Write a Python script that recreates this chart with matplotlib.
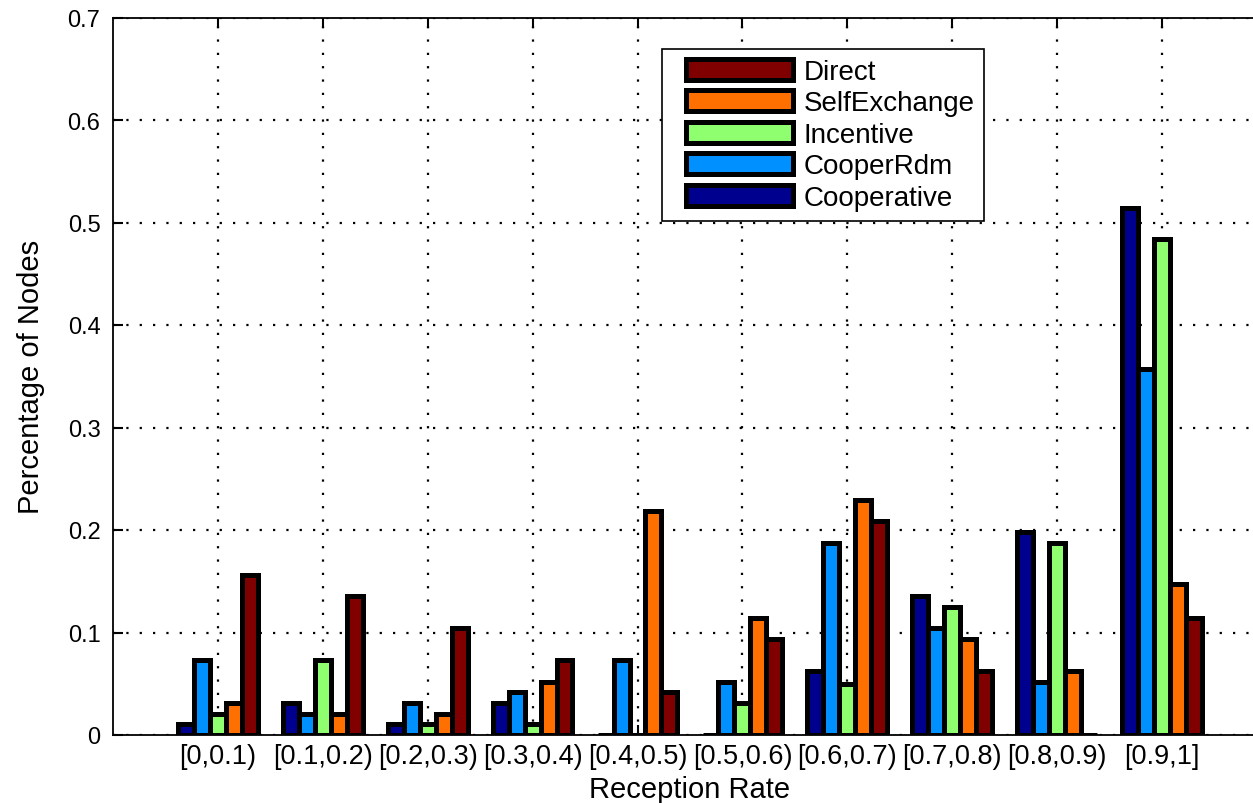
import matplotlib
matplotlib.use("Agg")
import matplotlib.pyplot as plt
from matplotlib.legend_handler import HandlerPatch
from matplotlib.patches import Rectangle
import numpy as np

plt.rcParams['font.family'] = ['Liberation Sans', 'DejaVu Sans']

categories = ["[0,0.1)", "[0.1,0.2)", "[0.2,0.3)", "[0.3,0.4)", "[0.4,0.5)",
              "[0.5,0.6)", "[0.6,0.7)", "[0.7,0.8)", "[0.8,0.9)", "[0.9,1]"]

cooperative  = [0.0104, 0.0313, 0.0104, 0.0313, 0.0, 0.0, 0.0625, 0.1354, 0.1979, 0.514]
cooper_rdm   = [0.0729, 0.0208, 0.0313, 0.0417, 0.0729, 0.0521, 0.1875, 0.1042, 0.0521, 0.357]
incentive    = [0.0208, 0.0729, 0.0104, 0.0104, 0.0, 0.0313, 0.050, 0.125, 0.1875, 0.484]
self_exchange = [0.0313, 0.0208, 0.0208, 0.0521, 0.2188, 0.1146, 0.2292, 0.0938, 0.0625, 0.147]
direct       = [0.1563, 0.1354, 0.1042, 0.0729, 0.0417, 0.0938, 0.2083, 0.0625, 0.0, 0.1146]

series_names = ["Cooperative", "CooperRdm", "Incentive", "SelfExchange", "Direct"]
series_vals = [cooperative, cooper_rdm, incentive, self_exchange, direct]
colors = ["#00008F", "#0090FF", "#8FFF70", "#FF7000", "#800000"]

y_ticks = [0, 0.1, 0.2, 0.3, 0.4, 0.5, 0.6, 0.7]
y_tick_labels = ["0", "0.1", "0.2", "0.3", "0.4", "0.5", "0.6", "0.7"]

W, H = 1253, 804
fig = plt.figure(figsize=(W / 100, H / 100), dpi=100)
left_px, top_px, bottom_px = 113, 18.5, 736
unit_px = 104.9
ax = fig.add_axes([left_px / W, (H - bottom_px) / H, 11 * unit_px / W, (bottom_px - top_px) / H])

x = np.arange(1, len(categories) + 1)
bw = 0.152
handles = []
for i, (name, vals, c) in enumerate(zip(series_names, series_vals, colors)):
    b = ax.bar(x + (i - 2) * bw, vals, width=bw, color=c, edgecolor="black",
               linewidth=3.6, label=name, zorder=3)
    handles.append(b.patches[0])

ax.set_xlim(0, 11)
ax.set_ylim(0, 0.7)
ax.set_xticks(x)
ax.set_xticklabels(categories, fontsize=19.5)
ax.set_yticks(y_ticks)
ax.set_yticklabels(y_tick_labels, fontsize=17)
ax.tick_params(direction="in", length=7, width=1.5, top=True, right=True, pad=9)
ax.tick_params(axis="x", pad=6)
for s in ax.spines.values():
    s.set_linewidth(1.3)

ax.set_axisbelow(True)
ax.grid(True, color="black", linestyle=(0, (1, 5)), linewidth=1.6)

ax.set_xlabel("Reception Rate", fontsize=21, labelpad=4)
ax.set_ylabel("Percentage of Nodes", fontsize=21, labelpad=16)

leg = ax.legend(handles[::-1], series_names[::-1], loc="upper left",
                bbox_to_anchor=(662 / W, (H - 49.5) / H), bbox_transform=fig.transFigure,
                fontsize=20, frameon=True, fancybox=False, framealpha=1,
                edgecolor="black", handlelength=4.35, handleheight=0.8,
                handletextpad=0.38, labelspacing=0.19, borderpad=0.36,
                borderaxespad=0,
                handler_map={Rectangle: HandlerPatch(xpad=0.5)})
leg.get_frame().set_linewidth(1.2)

fig.savefig("out.png", dpi=100)
